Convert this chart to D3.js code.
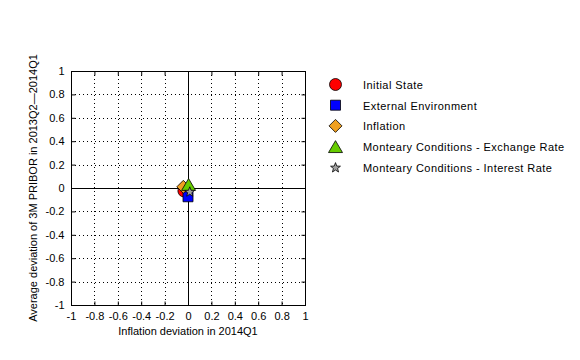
<!DOCTYPE html>
<html><head><meta charset="utf-8">
<script src="https://cdn.jsdelivr.net/npm/d3@7"></script>
<style>body{margin:0;background:#fff}svg{display:block}text{font-family:"Liberation Sans",Arial,sans-serif;font-size:11px;fill:#000}</style>
</head><body><svg id="c" width="580" height="360"></svg>
<script>
const seriesNames = ["Initial State","External Environment","Inflation","Monteary Conditions - Exchange Rate","Monteary Conditions - Interest Rate"];
const xValues = [-0.035, 0.0, -0.04, 0.005, 0.015];
const yValues = [-0.025, -0.075, 0.01, 0.03, -0.03];
const colors = ["#ff0000","#0000ff","#f0a020","#66cc00","#a0a0a0"];
const tickVals = [-1,-0.8,-0.6,-0.4,-0.2,0,0.2,0.4,0.6,0.8,1];

const mk = {
  circle: r => { const p=d3.path(); p.arc(0,0,r,0,2*Math.PI); return p.toString(); },
  square: r => `M${-r},${-r}H${r}V${r}H${-r}Z`,
  diamond: r => `M0,${-r}L${r},0L0,${r}L${-r},0Z`,
  triangle: r => `M0,${-r*0.85}L${r},${r*0.85}L${-r},${r*0.85}Z`,
  star: r => { let s=""; for(let k=0;k<10;k++){const a=-Math.PI/2+k*Math.PI/5; const rr=k%2?r*0.42:r; s+=(k?"L":"M")+(rr*Math.cos(a)).toFixed(2)+","+(rr*Math.sin(a)+r*0.1).toFixed(2);} return s+"Z"; }
};
const shapeFns = [()=>mk.circle(6), ()=>mk.square(5), ()=>mk.diamond(6.5), ()=>mk.triangle(7), ()=>mk.star(5.2)];

const svg = d3.select("#c");
const L=71, R=305, T=71, B=305;
const x = d3.scaleLinear().domain([-1,1]).range([L,R]);
const y = d3.scaleLinear().domain([-1,1]).range([B,T]);
const fmt = d => String(+d.toFixed(1));
const px = v => Math.round(v)+0.5;

const g = svg.append("g");
tickVals.forEach(t=>{
  if (t!==-1 && t!==1 && t!==0){
    g.append("line").attr("x1",px(x(t))).attr("x2",px(x(t))).attr("y1",T).attr("y2",B)
      .attr("stroke","#000").attr("stroke-dasharray","1,3").attr("stroke-width",1);
    g.append("line").attr("y1",px(y(t))).attr("y2",px(y(t))).attr("x1",L).attr("x2",R)
      .attr("stroke","#000").attr("stroke-dasharray","1,3").attr("stroke-width",1);
  }
});
g.append("line").attr("x1",px(x(0))).attr("x2",px(x(0))).attr("y1",T).attr("y2",B).attr("stroke","#000");
g.append("line").attr("y1",px(y(0))).attr("y2",px(y(0))).attr("x1",L).attr("x2",R).attr("stroke","#000");
g.append("rect").attr("x",L+0.5).attr("y",T+0.5).attr("width",R-L).attr("height",B-T).attr("fill","none").attr("stroke","#000");

const xa = svg.append("g").attr("transform",`translate(0,${B+0.5})`)
  .call(d3.axisBottom(x).tickValues(tickVals).tickFormat(fmt).tickSize(-4).tickPadding(7));
const ya = svg.append("g").attr("transform",`translate(${L+0.5},0)`)
  .call(d3.axisLeft(y).tickValues(tickVals).tickFormat(fmt).tickSize(-4).tickPadding(7));
[xa,ya].forEach(a=>{a.select(".domain").remove();a.selectAll("line").attr("stroke","#000");a.selectAll("text").attr("font-size","11.5px").attr("font-family","Liberation Sans, Arial, sans-serif").attr("fill","#000");});
const xt = svg.append("g").attr("transform",`translate(0,${T+0.5})`)
  .call(d3.axisTop(x).tickValues(tickVals).tickFormat("").tickSize(-4));
const yt = svg.append("g").attr("transform",`translate(${R+0.5},0)`)
  .call(d3.axisRight(y).tickValues(tickVals).tickFormat("").tickSize(-4));
[xt,yt].forEach(a=>{a.select(".domain").remove();a.selectAll("line").attr("stroke","#000");});

svg.append("text").attr("x",(L+R)/2).attr("y",335).attr("text-anchor","middle").attr("font-size","11.5px").text("Inflation deviation in 2014Q1");
svg.append("text").attr("transform",`translate(37,${(T+B)/2}) rotate(-90)`).attr("text-anchor","middle").attr("font-size","11.5px")
  .text("Average deviation of 3M PRIBOR in 2013Q2\u20142014Q1");

seriesNames.forEach((n,i)=>{
  svg.append("path").attr("d",shapeFns[i]())
    .attr("transform",`translate(${x(xValues[i])},${y(yValues[i])})`)
    .attr("fill",colors[i]).attr("stroke","#000").attr("stroke-width",0.8);
});

seriesNames.forEach((n,i)=>{
  const yy = 84.5 + i*20.7;
  svg.append("path").attr("d",shapeFns[i]())
    .attr("transform",`translate(335.5,${yy})`)
    .attr("fill",colors[i]).attr("stroke","#000").attr("stroke-width",0.8);
  svg.append("text").attr("x",363).attr("y",yy+4.5).attr("font-size","13px").attr("letter-spacing","0.45px").text(n);
});
</script></body></html>
